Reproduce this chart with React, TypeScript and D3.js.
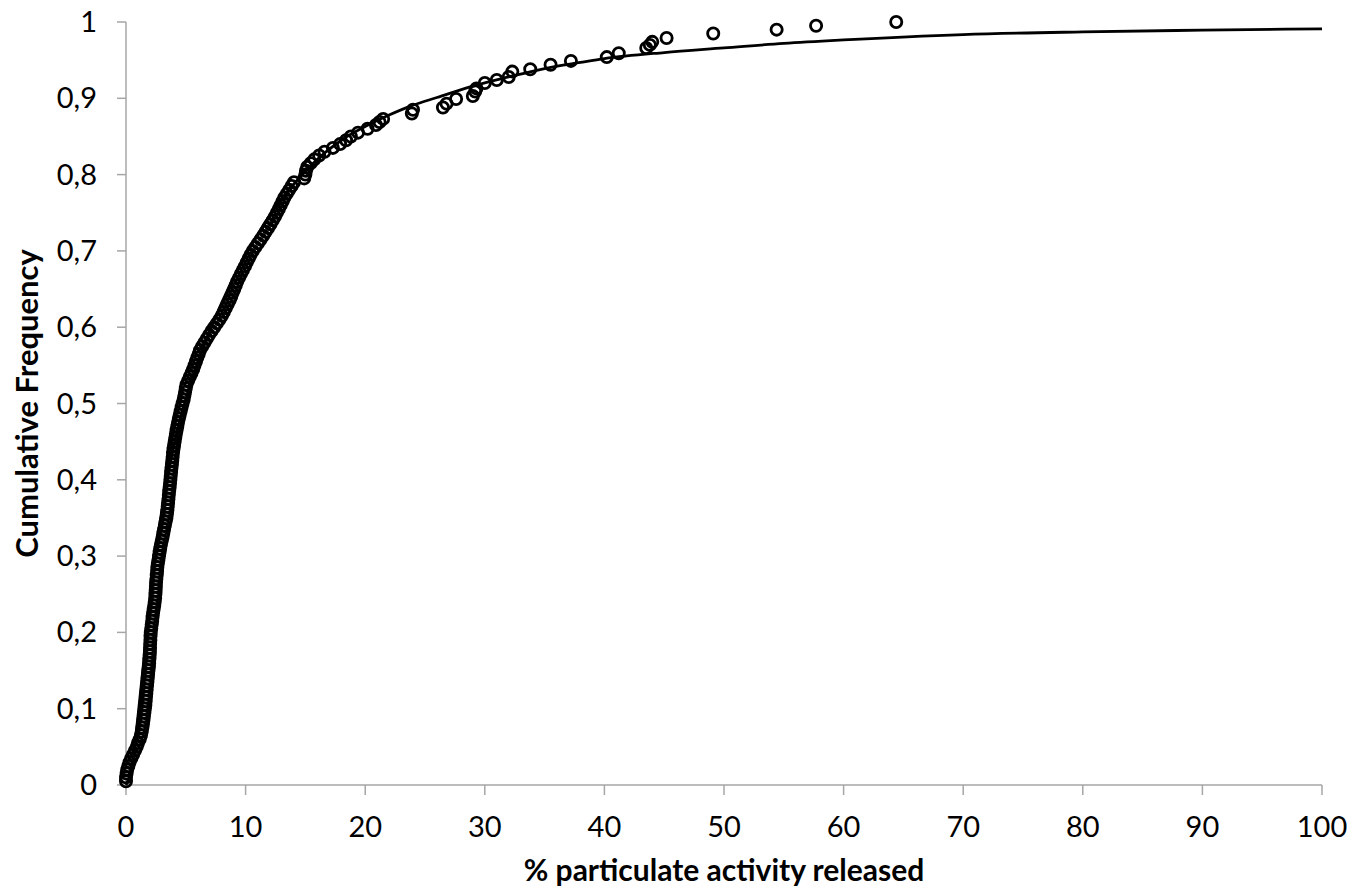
import React, { useEffect, useRef } from "react";
import * as d3 from "d3";

// observed sample: % released (x) and cumulative frequency (y)
const released = [
  0.0, 0.0, 0.05, 0.1, 0.2, 0.3, 0.45, 0.6, 0.75, 0.9,
  1.0, 1.15, 1.25, 1.32, 1.37, 1.42, 1.46, 1.5, 1.54, 1.58,
  1.62, 1.65, 1.67, 1.7, 1.73, 1.76, 1.79, 1.82, 1.85, 1.88,
  1.92, 1.94, 1.96, 1.98, 2.0, 2.01, 2.02, 2.04, 2.05, 2.07,
  2.11, 2.15, 2.19, 2.22, 2.26, 2.31, 2.36, 2.4, 2.44, 2.46,
  2.48, 2.5, 2.51, 2.54, 2.57, 2.6, 2.62, 2.66, 2.71, 2.76,
  2.81, 2.86, 2.92, 2.99, 3.06, 3.12, 3.18, 3.25, 3.31, 3.38,
  3.42, 3.46, 3.49, 3.52, 3.55, 3.58, 3.61, 3.65, 3.68, 3.71,
  3.74, 3.77, 3.8, 3.84, 3.87, 3.9, 3.93, 3.97, 4.02, 4.07,
  4.12, 4.17, 4.23, 4.29, 4.35, 4.42, 4.49, 4.57, 4.65, 4.73,
  4.82, 4.88, 4.94, 5.0, 5.06, 5.2, 5.34, 5.48, 5.62, 5.73,
  5.85, 5.96, 6.08, 6.19, 6.38, 6.57, 6.76, 6.95, 7.16, 7.38,
  7.6, 7.82, 8.02, 8.18, 8.34, 8.5, 8.66, 8.8, 8.92, 9.05,
  9.18, 9.3, 9.46, 9.62, 9.78, 9.95, 10.1, 10.26, 10.42, 10.6,
  10.82, 11.04, 11.26, 11.48, 11.68, 11.88, 12.08, 12.27, 12.46, 12.62,
  12.78, 12.94, 13.1, 13.25, 13.45, 13.65, 13.85, 14.05, 14.9, 15.0,
  15.05, 15.15, 15.45, 15.75, 16.15, 16.6, 17.3, 17.9, 18.4, 18.8,
  19.4, 20.2, 20.9, 21.2,
  21.5, 23.9, 24.0, 26.5, 26.8, 27.6, 29.0, 29.2, 29.3, 30.0,
  31.0, 32.0, 32.3, 33.8, 35.5, 37.2, 40.2, 41.2, 43.5, 43.8,
  44.0, 45.2, 49.1, 54.4, 57.7, 64.4,
];
const cumFreq = [
  0.005, 0.01, 0.015, 0.02, 0.025, 0.03, 0.035, 0.04, 0.045, 0.05,
  0.055, 0.06, 0.065, 0.07, 0.075, 0.08, 0.085, 0.09, 0.095, 0.1,
  0.105, 0.11, 0.115, 0.12, 0.125, 0.13, 0.135, 0.14, 0.145, 0.15,
  0.155, 0.16, 0.165, 0.17, 0.175, 0.18, 0.185, 0.19, 0.195, 0.2,
  0.205, 0.21, 0.215, 0.22, 0.225, 0.23, 0.235, 0.24, 0.245, 0.25,
  0.255, 0.26, 0.265, 0.27, 0.275, 0.28, 0.285, 0.29, 0.295, 0.3,
  0.305, 0.31, 0.315, 0.32, 0.325, 0.33, 0.335, 0.34, 0.345, 0.35,
  0.355, 0.36, 0.365, 0.37, 0.375, 0.38, 0.385, 0.39, 0.395, 0.4,
  0.405, 0.41, 0.415, 0.42, 0.425, 0.43, 0.435, 0.44, 0.445, 0.45,
  0.455, 0.46, 0.465, 0.47, 0.475, 0.48, 0.485, 0.49, 0.495, 0.5,
  0.505, 0.51, 0.515, 0.52, 0.525, 0.53, 0.535, 0.54, 0.545, 0.55,
  0.555, 0.56, 0.565, 0.57, 0.575, 0.58, 0.585, 0.59, 0.595, 0.6,
  0.605, 0.61, 0.615, 0.62, 0.625, 0.63, 0.635, 0.64, 0.645, 0.65,
  0.655, 0.66, 0.665, 0.67, 0.675, 0.68, 0.685, 0.69, 0.695, 0.7,
  0.705, 0.71, 0.715, 0.72, 0.725, 0.73, 0.735, 0.74, 0.745, 0.75,
  0.755, 0.76, 0.765, 0.77, 0.775, 0.78, 0.785, 0.79, 0.795, 0.8,
  0.805, 0.81, 0.815, 0.82, 0.825, 0.83, 0.835, 0.84, 0.845, 0.85,
  0.855, 0.86, 0.865, 0.869,
  0.873, 0.88, 0.885, 0.888, 0.893, 0.899, 0.903, 0.909, 0.913, 0.92,
  0.924, 0.928, 0.935, 0.938, 0.944, 0.949, 0.954, 0.959, 0.966, 0.97,
  0.974, 0.979, 0.985, 0.99, 0.995, 1.0,
];

// fitted distribution curve
const fitX = [
  0, 0.5, 1, 1.5, 2, 2.5, 3, 3.5, 4, 5, 6, 7, 8, 9, 10, 12, 14, 16, 18,
  20, 22, 24, 26, 29, 32, 35, 38, 40, 45, 50, 55, 60, 70, 80, 90, 100,
];
const fitY = [
  0, 0.025, 0.09, 0.165, 0.24, 0.305, 0.36, 0.405, 0.445, 0.505, 0.553,
  0.595, 0.632, 0.665, 0.694, 0.746, 0.787, 0.82, 0.845, 0.863, 0.878,
  0.891, 0.901, 0.916, 0.928, 0.939, 0.947, 0.952, 0.96, 0.966, 0.972,
  0.9765, 0.9835, 0.987, 0.9893, 0.991,
];

const xTicks = [0, 10, 20, 30, 40, 50, 60, 70, 80, 90, 100];
const yTicks = [0, 0.1, 0.2, 0.3, 0.4, 0.5, 0.6, 0.7, 0.8, 0.9, 1];

export default function App() {
  const ref = useRef<SVGSVGElement>(null);
  const width = 1363;
  const height = 893;

  useEffect(() => {
    const svg = d3.select(ref.current);
    svg.selectAll("*").remove();

    const left = 126;
    const right = 1322;
    const top = 22;
    const bottom = 785;
    const font = "Lato, 'Open Sans', sans-serif";
    const axisColor = "#a6a6a6";

    const x = d3.scaleLinear().domain([0, 100]).range([left, right]);
    const y = d3.scaleLinear().domain([0, 1]).range([bottom, top]);

    // axes
    const g = svg.append("g");
    g.append("line")
      .attr("x1", left).attr("x2", left)
      .attr("y1", top).attr("y2", bottom)
      .attr("stroke", axisColor).attr("stroke-width", 1.5);
    g.append("line")
      .attr("x1", left).attr("x2", right)
      .attr("y1", bottom).attr("y2", bottom)
      .attr("stroke", axisColor).attr("stroke-width", 1.5);

    g.selectAll(".yt")
      .data(yTicks)
      .join("line")
      .attr("x1", left - 9).attr("x2", left)
      .attr("y1", (d) => y(d)).attr("y2", (d) => y(d))
      .attr("stroke", axisColor).attr("stroke-width", 1.5);

    g.selectAll(".xt")
      .data(xTicks)
      .join("line")
      .attr("x1", (d) => x(d)).attr("x2", (d) => x(d))
      .attr("y1", bottom).attr("y2", bottom + 10)
      .attr("stroke", axisColor).attr("stroke-width", 1.5);

    g.selectAll(".yl")
      .data(yTicks)
      .join("text")
      .attr("x", 97)
      .attr("y", (d) => y(d) + 10)
      .attr("text-anchor", "end")
      .attr("font-family", font)
      .attr("font-size", 29)
      .attr("fill", "#000")
      .text((d) => String(+d.toFixed(1)).replace(".", ","));

    g.selectAll(".xl")
      .data(xTicks)
      .join("text")
      .attr("x", (d) => x(d))
      .attr("y", 837)
      .attr("text-anchor", "middle")
      .attr("font-family", font)
      .attr("font-size", 29)
      .attr("fill", "#000")
      .text((d) => String(d));

    // fitted curve
    const line = d3
      .line<number>()
      .x((d, i) => x(fitX[i]))
      .y((d) => y(d))
      .curve(d3.curveMonotoneX);
    svg.append("path")
      .datum(fitY)
      .attr("d", line)
      .attr("fill", "none")
      .attr("stroke", "#000")
      .attr("stroke-width", 2.8);

    // observed points
    svg.append("g")
      .selectAll("circle")
      .data(released)
      .join("circle")
      .attr("cx", (d) => x(d))
      .attr("cy", (d, i) => y(cumFreq[i]))
      .attr("r", 5.6)
      .attr("fill", "none")
      .attr("stroke", "#000")
      .attr("stroke-width", 2.8);

    // titles
    svg.append("text")
      .attr("x", (left + right) / 2)
      .attr("y", 881)
      .attr("text-anchor", "middle")
      .attr("font-family", font)
      .attr("font-weight", 700)
      .attr("font-size", 30)
      .attr("fill", "#000")
      .text("% particulate activity released");

    svg.append("text")
      .attr("transform", `translate(38, ${(top + bottom) / 2}) rotate(-90)`)
      .attr("text-anchor", "middle")
      .attr("font-family", font)
      .attr("font-weight", 700)
      .attr("font-size", 31)
      .attr("fill", "#000")
      .text("Cumulative Frequency");
  }, []);

  return (
    <svg
      ref={ref}
      width={width}
      height={height}
      style={{ position: "absolute", left: 0, top: 0, background: "#fff" }}
    />
  );
}
